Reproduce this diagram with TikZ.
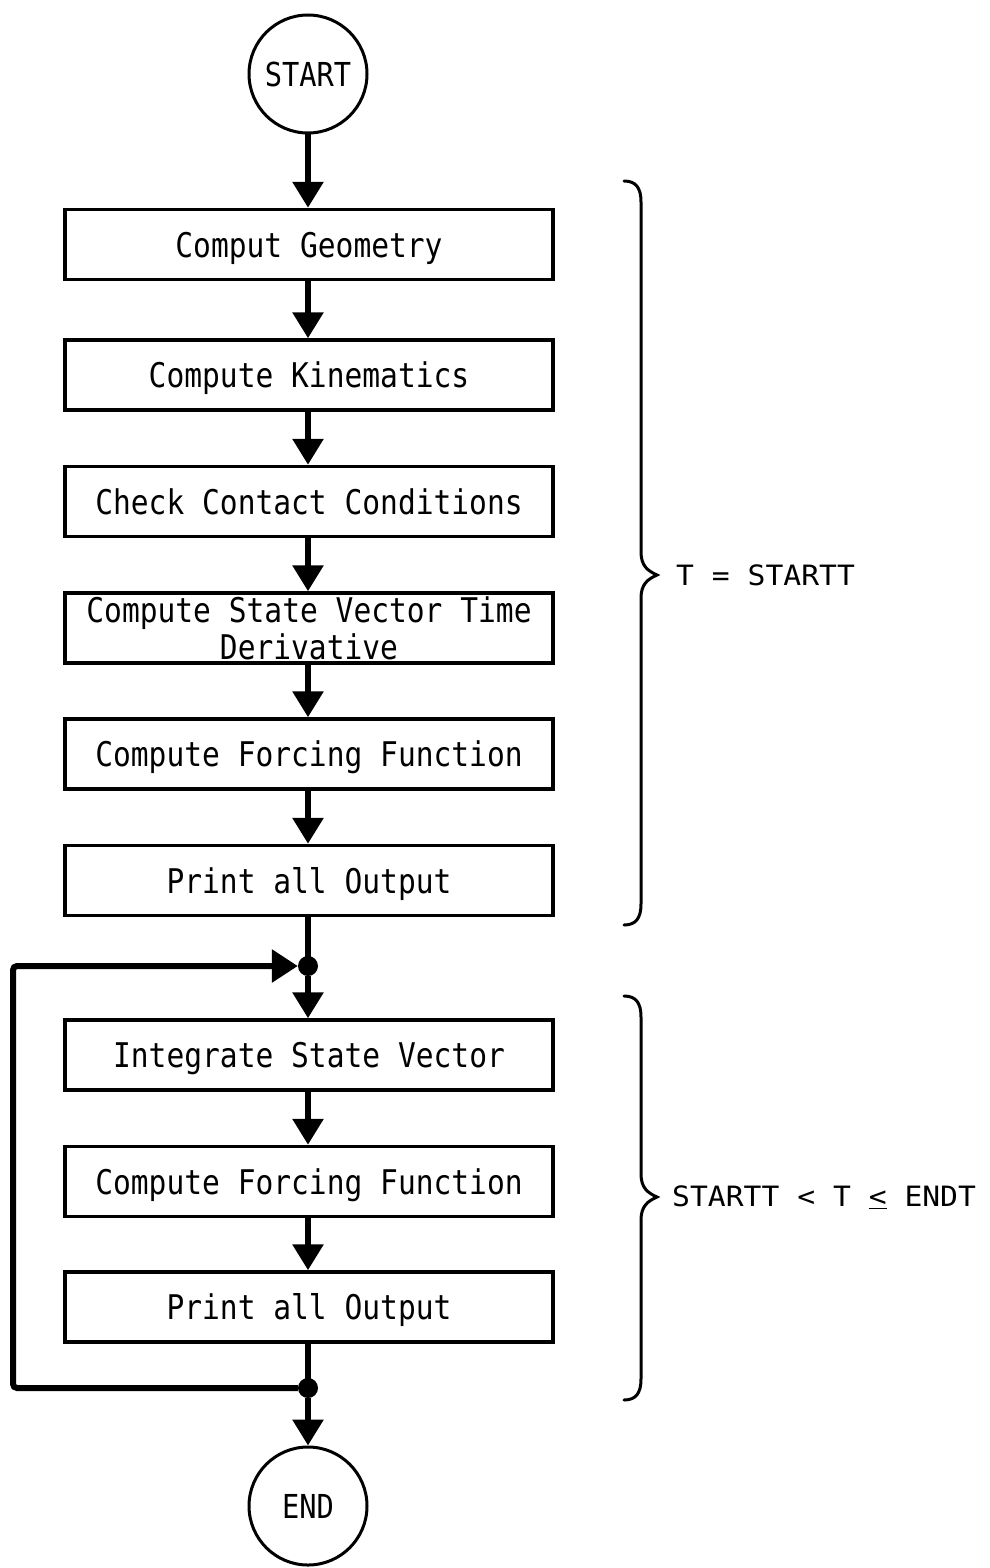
\documentclass[tikz,border=0pt]{standalone}
\usepackage{fontspec}
\usetikzlibrary{arrows.meta}
\newfontfamily\boxfont[FakeStretch=0.87]{DejaVu Sans Mono}
\newfontfamily\lblfont[FakeStretch=1.06]{DejaVu Sans Mono}

\begin{document}
\begin{tikzpicture}[x=1pt,y=-1pt,
  stepbox/.style={draw, line width=3.5pt, minimum width=488pt, minimum height=70pt,
    inner sep=0pt, font=\boxfont\fontsize{34}{37}\selectfont,
    text height=25pt, text depth=0pt},
  twoline/.style={draw, line width=3.5pt, minimum width=488pt, minimum height=70pt,
    inner sep=0pt, align=center, font=\boxfont\fontsize{34}{37}\selectfont},
  terminal/.style={draw, circle, line width=3pt, minimum size=118pt, inner sep=0pt,
    font=\boxfont\fontsize{33}{36}\selectfont},
  joint/.style={circle, fill=black, inner sep=0pt, minimum size=20pt},
  flow/.style={line width=6pt, -{Triangle[length=26pt,width=30pt]}},
  plain/.style={line width=6pt},
  loopline/.style={line width=6pt, rounded corners=4pt, -{Triangle[length=26pt,width=32pt]}},
  brace/.style={line width=3pt, line cap=round},
  rangelabel/.style={anchor=west, inner sep=0pt, font=\lblfont\fontsize{28}{32}\selectfont}
]
\useasboundingbox (0,0) rectangle (990,1568);

% terminals
\node[terminal] (start) at (308,74) {START};
\node[terminal] (end)   at (308,1506) {END};

% initialisation sequence
\node[stepbox] (g1) at (309,244.5) {Comput Geometry};
\node[stepbox] (g2) at (309,375)   {Compute Kinematics};
\node[stepbox] (g3) at (309,501.5) {Check Contact Conditions};
\node[twoline] (g4) at (309,628)   {Compute State Vector Time\\Derivative};
\node[stepbox] (g5) at (309,754)   {Compute Forcing Function};
\node[stepbox] (g6) at (309,880.5) {Print all Output};

% integration loop
\node[stepbox] (i1) at (309,1055)   {Integrate State Vector};
\node[stepbox] (i2) at (309,1181.5) {Compute Forcing Function};
\node[stepbox] (i3) at (309,1307)   {Print all Output};

% junctions
\node[joint] (j1) at (308,966) {};
\node[joint] (j2) at (308,1388) {};
\coordinate (lb) at (13,1388);
\coordinate (lt) at (13,966);

% connectors
\draw[flow] (start) -- (start |- g1.north);
\draw[flow] (g1.south -| start) -- (g2.north -| start);
\draw[flow] (g2.south -| start) -- (g3.north -| start);
\draw[flow] (g3.south -| start) -- (g4.north -| start);
\draw[flow] (g4.south -| start) -- (g5.north -| start);
\draw[flow] (g5.south -| start) -- (g6.north -| start);
\draw[plain] (g6.south -| j1) -- (j1.center);
\draw[flow] (j1) -- (i1.north -| j1);
\draw[flow] (i1.south -| j1) -- (i2.north -| j1);
\draw[flow] (i2.south -| j1) -- (i3.north -| j1);
\draw[plain] (i3.south -| j2) -- (j2.center);
\draw[flow] (j2) -- (end);
\draw[loopline] (j2.west) -- (lb) -- (lt) -- (j1);

% braces
\draw[brace] (624,181) .. controls (636,181) and (641,188) .. (641,202)
  -- (641,552) .. controls (641,566) and (648,571) .. (657,575)
  .. controls (648,579) and (641,584) .. (641,598)
  -- (641,904) .. controls (641,918) and (636,925) .. (624,925);
\draw[brace] (624,996) .. controls (636,996) and (641,1003) .. (641,1017)
  -- (641,1174) .. controls (641,1188) and (648,1193) .. (657,1197)
  .. controls (648,1201) and (641,1206) .. (641,1220)
  -- (641,1379) .. controls (641,1393) and (636,1400) .. (624,1400);

\node[rangelabel] (r1) at (676,575)  {T = STARTT};
\node[rangelabel] (r2) at (672,1197) {STARTT < T \underline{<} ENDT};
\end{tikzpicture}
\end{document}
